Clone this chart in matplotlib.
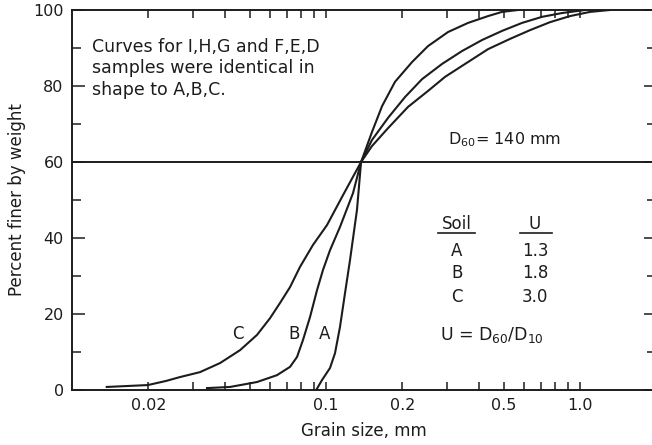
import numpy as np
import matplotlib
matplotlib.use('Agg')
import matplotlib.pyplot as plt
from matplotlib.ticker import FixedLocator, FixedFormatter, NullFormatter

# grain size distribution curves (x in mm, y in % finer)
a_size = [0.0915, 0.0964, 0.1037, 0.1085, 0.1135, 0.1188, 0.1243, 0.1324, 0.1374,
          0.1517, 0.1662, 0.1869, 0.2181, 0.2521, 0.3022, 0.3623, 0.4344, 0.4931, 0.57]
a_pct = [0, 2.6, 5.8, 9.7, 16.6, 25.5, 34.2, 47.4, 60,
         67.9, 74.7, 81.1, 86.3, 90.5, 94.2, 96.6, 98.4, 99.5, 100]

b_size = [0.034, 0.0419, 0.0535, 0.0641, 0.0722, 0.0769, 0.0812, 0.0865, 0.0922, 0.0973,
          0.1037, 0.1135, 0.1277, 0.1374,
          0.1517, 0.1754, 0.2047, 0.2388, 0.2862, 0.3431, 0.4114, 0.4931, 0.591,
          0.7087, 0.8494, 1.046]
b_pct = [0.5, 0.8, 2.1, 3.9, 6.1, 8.7, 13.2, 19.2, 26.3, 31.6,
         36.8, 42.9, 51.8, 60,
         65.8, 71.6, 77.1, 81.8, 85.8, 89.2, 92.1, 94.5, 96.6,
         98.2, 99.2, 100]

c_size = [0.0137, 0.0199, 0.0235, 0.0266, 0.0319, 0.0383, 0.0459, 0.0535, 0.0602, 0.0659,
          0.0722, 0.079, 0.0889, 0.1009, 0.1167, 0.1374,
          0.1517, 0.1754, 0.2103, 0.2521, 0.2941, 0.3526, 0.4344, 0.5302, 0.6356,
          0.7619, 0.9134, 1.095, 1.313]
c_pct = [0.8, 1.3, 2.4, 3.4, 4.7, 7.1, 10.5, 14.5, 18.9, 22.9,
         27.1, 32.4, 38.2, 43.4, 51.3, 60,
         64.2, 68.9, 74.5, 78.7, 82.4, 85.8, 89.7, 92.4, 94.7,
         96.8, 98.4, 99.5, 100]

soils = ['A', 'B', 'C']
u_vals = ['1.3', '1.8', '3.0']

xticks = [0.02, 0.1, 0.2, 0.5, 1.0]
xticklabels = ['0.02', '0.1', '0.2', '0.5', '1.0']
xminor = [0.03, 0.04, 0.05, 0.06, 0.07, 0.08, 0.09,
          0.3, 0.4, 0.6, 0.7, 0.8, 0.9]

note_lines = ['Curves for I,H,G and F,E,D', 'samples were identical in', 'shape to A,B,C.']

ink = '#1c1c1c'
plt.rcParams['font.family'] = ['DejaVu Sans']
plt.rcParams['text.color'] = ink
plt.rcParams['axes.labelcolor'] = ink
plt.rcParams['xtick.color'] = ink
plt.rcParams['ytick.color'] = ink

fig = plt.figure(figsize=(6.52, 4.45), dpi=100)
ax = fig.add_axes([72/652, 55/445, 584.5/652, 380/445])

for xs, ys in [(a_size, a_pct), (b_size, b_pct), (c_size, c_pct)]:
    ax.plot(xs, ys, color=ink, lw=1.5, solid_joinstyle='round')

ax.axhline(60, color=ink, lw=1.4)

ax.set_xscale('log')
ax.set_xlim(0.01, 2.0)
ax.set_ylim(0, 100)

ax.xaxis.set_major_locator(FixedLocator(xticks))
ax.xaxis.set_major_formatter(FixedFormatter(xticklabels))
ax.xaxis.set_minor_locator(FixedLocator(xminor))
ax.xaxis.set_minor_formatter(NullFormatter())
ax.set_yticks([0, 20, 40, 60, 80, 100])
ax.set_yticks([10, 30, 50, 70, 90], minor=True)

ax.tick_params(axis='x', which='both', direction='in', length=6, width=1.1,
               top=True, labelsize=11.5, pad=6)
ax.tick_params(axis='y', which='major', direction='in', length=9, width=1.1,
               right=True, labelsize=11.5, pad=6)
ax.tick_params(axis='y', which='minor', direction='in', length=6.5, width=1.1,
               right=True)
for s in ax.spines.values():
    s.set_linewidth(1.4)
    s.set_color(ink)

ax.set_xlabel('Grain size, mm', fontsize=12, labelpad=6)
ax.set_ylabel('Percent finer by weight', fontsize=12, labelpad=5)

for line, yy in zip(note_lines, [90.3, 84.7, 78.9]):
    ax.text(0.012, yy, line, fontsize=12.5, va='center', ha='left')
ax.text(0.302, 65.8, r'D$_{60}$= 140 mm', fontsize=11.5, va='center', ha='left')

ax.text(0.0451, 14.7, 'C', fontsize=12, ha='center', va='center')
ax.text(0.0748, 14.7, 'B', fontsize=12, ha='center', va='center')
ax.text(0.0991, 14.7, 'A', fontsize=12, ha='center', va='center')

ax.text(0.328, 43.6, 'Soil', fontsize=12, ha='center', va='center')
ax.text(0.665, 43.6, 'U', fontsize=12, ha='center', va='center')
ax.plot([0.276, 0.386], [41.3, 41.3], color=ink, lw=1.2)
ax.plot([0.581, 0.776], [41.3, 41.3], color=ink, lw=1.2)
for s, u, yy in zip(soils, u_vals, [36.6, 30.8, 24.5]):
    ax.text(0.328, yy, s, fontsize=12, ha='center', va='center')
    ax.text(0.665, yy, u, fontsize=12, ha='center', va='center')
ax.text(0.281, 14.5, r'U = D$_{60}$/D$_{10}$', fontsize=12.5, ha='left', va='center')

fig.savefig('out.png', dpi=100)
